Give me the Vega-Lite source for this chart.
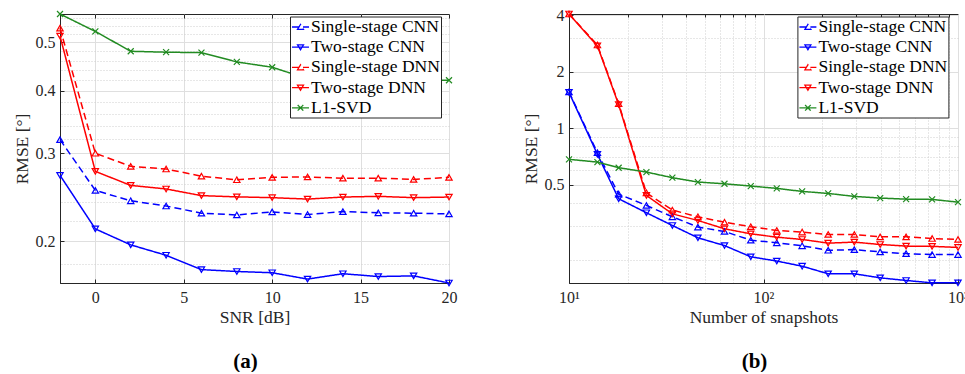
{
  "$schema": "https://vega.github.io/schema/vega-lite/v6.json",
  "background": "white",
  "padding": {"left": 12, "top": 6, "right": 0, "bottom": 0},
  "config": {
    "font": "Liberation Serif",
    "view": {"stroke": "#262626", "strokeWidth": 1},
    "axis": {"labelFont": "Liberation Serif", "labelFontSize": 16, "labelColor": "#262626", "titleFont": "Liberation Serif", "titleFontSize": 17.5, "titleFontWeight": "normal", "titleColor": "#262626", "domainColor": "#262626", "tickColor": "#262626", "gridColor": "#dfdfdf", "gridWidth": 1},
    "legend": {"labelFont": "Liberation Serif", "labelFontSize": 17.5, "labelColor": "#000000"},
    "title": {"font": "Liberation Serif", "fontSize": 21, "fontWeight": "bold", "color": "#000000"}
  },
  "datasets": {
    "snr": [
      {"series": "Single-stage CNN", "snr": -2, "rmse": 0.3195}, {"series": "Single-stage CNN", "snr": 0, "rmse": 0.2528}, {"series": "Single-stage CNN", "snr": 2, "rmse": 0.241}, {"series": "Single-stage CNN", "snr": 4, "rmse": 0.2353}, {"series": "Single-stage CNN", "snr": 6, "rmse": 0.2276}, {"series": "Single-stage CNN", "snr": 8, "rmse": 0.2258}, {"series": "Single-stage CNN", "snr": 10, "rmse": 0.229}, {"series": "Single-stage CNN", "snr": 12, "rmse": 0.2262}, {"series": "Single-stage CNN", "snr": 14, "rmse": 0.2293}, {"series": "Single-stage CNN", "snr": 16, "rmse": 0.228}, {"series": "Single-stage CNN", "snr": 18, "rmse": 0.2276}, {"series": "Single-stage CNN", "snr": 20, "rmse": 0.2269},
      {"series": "Two-stage CNN", "snr": -2, "rmse": 0.271}, {"series": "Two-stage CNN", "snr": 0, "rmse": 0.2117}, {"series": "Two-stage CNN", "snr": 2, "rmse": 0.1967}, {"series": "Two-stage CNN", "snr": 4, "rmse": 0.1875}, {"series": "Two-stage CNN", "snr": 6, "rmse": 0.1755}, {"series": "Two-stage CNN", "snr": 8, "rmse": 0.174}, {"series": "Two-stage CNN", "snr": 10, "rmse": 0.173}, {"series": "Two-stage CNN", "snr": 12, "rmse": 0.168}, {"series": "Two-stage CNN", "snr": 14, "rmse": 0.1722}, {"series": "Two-stage CNN", "snr": 16, "rmse": 0.170}, {"series": "Two-stage CNN", "snr": 18, "rmse": 0.1705}, {"series": "Two-stage CNN", "snr": 20, "rmse": 0.165},
      {"series": "Single-stage DNN", "snr": -2, "rmse": 0.534}, {"series": "Single-stage DNN", "snr": 0, "rmse": 0.300}, {"series": "Single-stage DNN", "snr": 2, "rmse": 0.2825}, {"series": "Single-stage DNN", "snr": 4, "rmse": 0.279}, {"series": "Single-stage DNN", "snr": 6, "rmse": 0.270}, {"series": "Single-stage DNN", "snr": 8, "rmse": 0.2655}, {"series": "Single-stage DNN", "snr": 10, "rmse": 0.2685}, {"series": "Single-stage DNN", "snr": 12, "rmse": 0.269}, {"series": "Single-stage DNN", "snr": 14, "rmse": 0.2675}, {"series": "Single-stage DNN", "snr": 16, "rmse": 0.2675}, {"series": "Single-stage DNN", "snr": 18, "rmse": 0.266}, {"series": "Single-stage DNN", "snr": 20, "rmse": 0.2685},
      {"series": "Two-stage DNN", "snr": -2, "rmse": 0.515}, {"series": "Two-stage DNN", "snr": 0, "rmse": 0.276}, {"series": "Two-stage DNN", "snr": 2, "rmse": 0.2587}, {"series": "Two-stage DNN", "snr": 4, "rmse": 0.2545}, {"series": "Two-stage DNN", "snr": 6, "rmse": 0.2468}, {"series": "Two-stage DNN", "snr": 8, "rmse": 0.2454}, {"series": "Two-stage DNN", "snr": 10, "rmse": 0.2445}, {"series": "Two-stage DNN", "snr": 12, "rmse": 0.2429}, {"series": "Two-stage DNN", "snr": 14, "rmse": 0.2452}, {"series": "Two-stage DNN", "snr": 16, "rmse": 0.246}, {"series": "Two-stage DNN", "snr": 18, "rmse": 0.2445}, {"series": "Two-stage DNN", "snr": 20, "rmse": 0.2452},
      {"series": "L1-SVD", "snr": -2, "rmse": 0.570}, {"series": "L1-SVD", "snr": 0, "rmse": 0.526}, {"series": "L1-SVD", "snr": 2, "rmse": 0.480}, {"series": "L1-SVD", "snr": 4, "rmse": 0.478}, {"series": "L1-SVD", "snr": 6, "rmse": 0.477}, {"series": "L1-SVD", "snr": 8, "rmse": 0.457}, {"series": "L1-SVD", "snr": 10, "rmse": 0.446}, {"series": "L1-SVD", "snr": 12, "rmse": 0.423}, {"series": "L1-SVD", "snr": 14, "rmse": 0.422}, {"series": "L1-SVD", "snr": 16, "rmse": 0.421}, {"series": "L1-SVD", "snr": 18, "rmse": 0.421}, {"series": "L1-SVD", "snr": 20, "rmse": 0.420}
    ],
    "snap": [
      {"series": "Single-stage CNN", "n": 10, "rmse": 1.56}, {"series": "Single-stage CNN", "n": 14, "rmse": 0.74}, {"series": "Single-stage CNN", "n": 18, "rmse": 0.446}, {"series": "Single-stage CNN", "n": 25, "rmse": 0.388}, {"series": "Single-stage CNN", "n": 34, "rmse": 0.3376}, {"series": "Single-stage CNN", "n": 46, "rmse": 0.2976}, {"series": "Single-stage CNN", "n": 63, "rmse": 0.282}, {"series": "Single-stage CNN", "n": 86, "rmse": 0.2535}, {"series": "Single-stage CNN", "n": 117, "rmse": 0.2455}, {"series": "Single-stage CNN", "n": 158, "rmse": 0.2366}, {"series": "Single-stage CNN", "n": 215, "rmse": 0.224}, {"series": "Single-stage CNN", "n": 293, "rmse": 0.2258}, {"series": "Single-stage CNN", "n": 398, "rmse": 0.2196}, {"series": "Single-stage CNN", "n": 541, "rmse": 0.215}, {"series": "Single-stage CNN", "n": 736, "rmse": 0.2125}, {"series": "Single-stage CNN", "n": 1000, "rmse": 0.2125},
      {"series": "Two-stage CNN", "n": 10, "rmse": 1.55}, {"series": "Two-stage CNN", "n": 14, "rmse": 0.7255}, {"series": "Two-stage CNN", "n": 18, "rmse": 0.421}, {"series": "Two-stage CNN", "n": 25, "rmse": 0.3547}, {"series": "Two-stage CNN", "n": 34, "rmse": 0.3035}, {"series": "Two-stage CNN", "n": 46, "rmse": 0.261}, {"series": "Two-stage CNN", "n": 63, "rmse": 0.2373}, {"series": "Two-stage CNN", "n": 86, "rmse": 0.2068}, {"series": "Two-stage CNN", "n": 117, "rmse": 0.1963}, {"series": "Two-stage CNN", "n": 158, "rmse": 0.1843}, {"series": "Two-stage CNN", "n": 215, "rmse": 0.1679}, {"series": "Two-stage CNN", "n": 293, "rmse": 0.1679}, {"series": "Two-stage CNN", "n": 398, "rmse": 0.1598}, {"series": "Two-stage CNN", "n": 541, "rmse": 0.1547}, {"series": "Two-stage CNN", "n": 736, "rmse": 0.1503}, {"series": "Two-stage CNN", "n": 1000, "rmse": 0.1503},
      {"series": "Single-stage DNN", "n": 10, "rmse": 4.05}, {"series": "Single-stage DNN", "n": 14, "rmse": 2.77}, {"series": "Single-stage DNN", "n": 18, "rmse": 1.35}, {"series": "Single-stage DNN", "n": 25, "rmse": 0.453}, {"series": "Single-stage DNN", "n": 34, "rmse": 0.3665}, {"series": "Single-stage DNN", "n": 46, "rmse": 0.3376}, {"series": "Single-stage DNN", "n": 63, "rmse": 0.316}, {"series": "Single-stage DNN", "n": 86, "rmse": 0.299}, {"series": "Single-stage DNN", "n": 117, "rmse": 0.2855}, {"series": "Single-stage DNN", "n": 158, "rmse": 0.280}, {"series": "Single-stage DNN", "n": 215, "rmse": 0.272}, {"series": "Single-stage DNN", "n": 293, "rmse": 0.272}, {"series": "Single-stage DNN", "n": 398, "rmse": 0.264}, {"series": "Single-stage DNN", "n": 541, "rmse": 0.264}, {"series": "Single-stage DNN", "n": 736, "rmse": 0.2587}, {"series": "Single-stage DNN", "n": 1000, "rmse": 0.2557},
      {"series": "Two-stage DNN", "n": 10, "rmse": 4.05}, {"series": "Two-stage DNN", "n": 14, "rmse": 2.74}, {"series": "Two-stage DNN", "n": 18, "rmse": 1.335}, {"series": "Two-stage DNN", "n": 25, "rmse": 0.4385}, {"series": "Two-stage DNN", "n": 34, "rmse": 0.350}, {"series": "Two-stage DNN", "n": 46, "rmse": 0.3227}, {"series": "Two-stage DNN", "n": 63, "rmse": 0.2915}, {"series": "Two-stage DNN", "n": 86, "rmse": 0.274}, {"series": "Two-stage DNN", "n": 117, "rmse": 0.263}, {"series": "Two-stage DNN", "n": 158, "rmse": 0.2557}, {"series": "Two-stage DNN", "n": 215, "rmse": 0.2445}, {"series": "Two-stage DNN", "n": 293, "rmse": 0.2475}, {"series": "Two-stage DNN", "n": 398, "rmse": 0.2404}, {"series": "Two-stage DNN", "n": 541, "rmse": 0.2357}, {"series": "Two-stage DNN", "n": 736, "rmse": 0.235}, {"series": "Two-stage DNN", "n": 1000, "rmse": 0.2319},
      {"series": "L1-SVD", "n": 10, "rmse": 0.6825}, {"series": "L1-SVD", "n": 14, "rmse": 0.660}, {"series": "L1-SVD", "n": 18, "rmse": 0.616}, {"series": "L1-SVD", "n": 25, "rmse": 0.584}, {"series": "L1-SVD", "n": 34, "rmse": 0.545}, {"series": "L1-SVD", "n": 46, "rmse": 0.5167}, {"series": "L1-SVD", "n": 63, "rmse": 0.506}, {"series": "L1-SVD", "n": 86, "rmse": 0.492}, {"series": "L1-SVD", "n": 117, "rmse": 0.478}, {"series": "L1-SVD", "n": 158, "rmse": 0.4607}, {"series": "L1-SVD", "n": 215, "rmse": 0.4495}, {"series": "L1-SVD", "n": 293, "rmse": 0.4333}, {"series": "L1-SVD", "n": 398, "rmse": 0.4246}, {"series": "L1-SVD", "n": 541, "rmse": 0.419}, {"series": "L1-SVD", "n": 736, "rmse": 0.4177}, {"series": "L1-SVD", "n": 1000, "rmse": 0.404}
    ]
  },
  "spacing": 120,
  "bounds": "flush",
  "resolve": {
    "scale": {"x": "independent", "y": "independent", "color": "independent", "strokeDash": "independent"},
    "legend": {"color": "independent", "strokeDash": "independent"}
  },
  "hconcat": [
    {
      "width": 389, "height": 269,
      "data": {"name": "snr"},
      "title": {"text": "(a)", "orient": "bottom", "frame": "group", "anchor": "middle", "dx": -9, "offset": 25},
      "layer": [
        {
          "mark": {"type": "line", "strokeWidth": 1.5},
          "encoding": {
            "x": {"field": "snr", "type": "quantitative", "scale": {"domain": [-2, 20], "nice": false, "zero": false}, "axis": {"title": "SNR [dB]", "values": [0, 5, 10, 15, 20], "grid": true, "tickSize": -4, "labelPadding": 10, "titlePadding": 3, "labelFlush": false}},
            "y": {"field": "rmse", "type": "quantitative", "scale": {"type": "log", "domain": [0.165, 0.57], "nice": false}, "axis": {"title": "RMSE [°]", "values": [0.2, 0.3, 0.4, 0.5], "format": ".1f", "grid": true, "tickSize": -4, "labelPadding": 9, "titlePadding": 4, "labelFlush": false}},
            "color": {"field": "series", "type": "nominal", "scale": {"domain": ["Single-stage CNN", "Two-stage CNN", "Single-stage DNN", "Two-stage DNN", "L1-SVD"], "range": ["#0000ff", "#0000ff", "#ff0000", "#ff0000", "#228b22"]},
              "legend": {"title": null, "orient": "none", "legendX": 230, "legendY": 2.5, "padding": 1, "strokeColor": "#262626", "fillColor": "white", "symbolSize": 289, "rowPadding": 2.2, "labelOffset": 1, "symbolStrokeWidth": 1.3, "symbolFillColor": "transparent",
                "encode": {"symbols": {"update": {"shape": {"signal": "datum.value == 'L1-SVD' ? 'M-1,0L1,0M-0.33,-0.33L0.33,0.33M-0.33,0.33L0.33,-0.33' : (slice(datum.value,0,3) == 'Two' ? 'M-1,0L1,0M-0.35,-0.28L0.35,-0.28L0,0.3Z' : 'M-1,0L1,0M-0.35,0.28L0.35,0.28L0,-0.3Z')"}, "fill": {"value": "transparent"}, "strokeWidth": {"value": 1.3}}}}}},
            "strokeDash": {"field": "series", "type": "nominal", "scale": {"domain": ["Single-stage CNN", "Two-stage CNN", "Single-stage DNN", "Two-stage DNN", "L1-SVD"], "range": [[7, 4], [1, 0], [7, 4], [1, 0], [1, 0]]}, "legend": null}
          }
        },
        {
          "transform": [{"filter": {"field": "series", "oneOf": ["Single-stage CNN", "Single-stage DNN"]}}],
          "mark": {"type": "point", "shape": "triangle-up", "filled": false, "size": 40, "strokeWidth": 1.2, "opacity": 1},
          "encoding": {
            "x": {"field": "snr", "type": "quantitative", "scale": {"domain": [-2, 20], "nice": false, "zero": false}, "axis": {"orient": "top", "values": [0, 5, 10, 15, 20], "labels": false, "title": null, "domain": false, "grid": false, "tickSize": -4}},
            "y": {"field": "rmse", "type": "quantitative", "scale": {"type": "log", "domain": [0.165, 0.57], "nice": false}, "axis": {"orient": "right", "values": [0.18, 0.22, 0.24, 0.26, 0.28, 0.32, 0.34, 0.36, 0.38, 0.42, 0.44, 0.46, 0.48, 0.52, 0.54, 0.56], "labels": false, "title": null, "domain": false, "grid": true, "gridDash": [1, 2], "gridColor": "#cfcfcf", "ticks": false}},
            "color": {"field": "series", "type": "nominal", "scale": {"domain": ["Single-stage CNN", "Two-stage CNN", "Single-stage DNN", "Two-stage DNN", "L1-SVD"], "range": ["#0000ff", "#0000ff", "#ff0000", "#ff0000", "#228b22"]},
              "legend": {"title": null, "orient": "none", "legendX": 230, "legendY": 2.5, "padding": 1, "strokeColor": "#262626", "fillColor": "white", "symbolSize": 289, "rowPadding": 2.2, "labelOffset": 1, "symbolStrokeWidth": 1.3, "symbolFillColor": "transparent",
                "encode": {"symbols": {"update": {"shape": {"signal": "datum.value == 'L1-SVD' ? 'M-1,0L1,0M-0.33,-0.33L0.33,0.33M-0.33,0.33L0.33,-0.33' : (slice(datum.value,0,3) == 'Two' ? 'M-1,0L1,0M-0.35,-0.28L0.35,-0.28L0,0.3Z' : 'M-1,0L1,0M-0.35,0.28L0.35,0.28L0,-0.3Z')"}, "fill": {"value": "transparent"}, "strokeWidth": {"value": 1.3}}}}}}
          }
        },
        {
          "transform": [{"filter": {"field": "series", "oneOf": ["Two-stage CNN", "Two-stage DNN"]}}],
          "mark": {"type": "point", "shape": "triangle-down", "filled": false, "size": 40, "strokeWidth": 1.2, "opacity": 1},
          "encoding": {
            "x": {"field": "snr", "type": "quantitative", "scale": {"domain": [-2, 20], "nice": false, "zero": false}, "axis": null},
            "y": {"field": "rmse", "type": "quantitative", "scale": {"type": "log", "domain": [0.165, 0.57], "nice": false}, "axis": null},
            "color": {"field": "series", "type": "nominal", "scale": {"domain": ["Single-stage CNN", "Two-stage CNN", "Single-stage DNN", "Two-stage DNN", "L1-SVD"], "range": ["#0000ff", "#0000ff", "#ff0000", "#ff0000", "#228b22"]},
              "legend": {"title": null, "orient": "none", "legendX": 230, "legendY": 2.5, "padding": 1, "strokeColor": "#262626", "fillColor": "white", "symbolSize": 289, "rowPadding": 2.2, "labelOffset": 1, "symbolStrokeWidth": 1.3, "symbolFillColor": "transparent",
                "encode": {"symbols": {"update": {"shape": {"signal": "datum.value == 'L1-SVD' ? 'M-1,0L1,0M-0.33,-0.33L0.33,0.33M-0.33,0.33L0.33,-0.33' : (slice(datum.value,0,3) == 'Two' ? 'M-1,0L1,0M-0.35,-0.28L0.35,-0.28L0,0.3Z' : 'M-1,0L1,0M-0.35,0.28L0.35,0.28L0,-0.3Z')"}, "fill": {"value": "transparent"}, "strokeWidth": {"value": 1.3}}}}}}
          }
        },
        {
          "transform": [{"filter": {"field": "series", "oneOf": ["L1-SVD"]}}],
          "mark": {"type": "point", "shape": "M-1,-1L1,1M-1,1L1,-1", "filled": false, "size": 36, "strokeWidth": 1.2, "opacity": 1},
          "encoding": {
            "x": {"field": "snr", "type": "quantitative", "scale": {"domain": [-2, 20], "nice": false, "zero": false}, "axis": null},
            "y": {"field": "rmse", "type": "quantitative", "scale": {"type": "log", "domain": [0.165, 0.57], "nice": false}, "axis": null},
            "color": {"field": "series", "type": "nominal", "scale": {"domain": ["Single-stage CNN", "Two-stage CNN", "Single-stage DNN", "Two-stage DNN", "L1-SVD"], "range": ["#0000ff", "#0000ff", "#ff0000", "#ff0000", "#228b22"]},
              "legend": {"title": null, "orient": "none", "legendX": 230, "legendY": 2.5, "padding": 1, "strokeColor": "#262626", "fillColor": "white", "symbolSize": 289, "rowPadding": 2.2, "labelOffset": 1, "symbolStrokeWidth": 1.3, "symbolFillColor": "transparent",
                "encode": {"symbols": {"update": {"shape": {"signal": "datum.value == 'L1-SVD' ? 'M-1,0L1,0M-0.33,-0.33L0.33,0.33M-0.33,0.33L0.33,-0.33' : (slice(datum.value,0,3) == 'Two' ? 'M-1,0L1,0M-0.35,-0.28L0.35,-0.28L0,0.3Z' : 'M-1,0L1,0M-0.35,0.28L0.35,0.28L0,-0.3Z')"}, "fill": {"value": "transparent"}, "strokeWidth": {"value": 1.3}}}}}}
          }
        }
      ],
      "resolve": {"axis": {"x": "independent", "y": "independent"}}
    },
    {
      "width": 389, "height": 269,
      "data": {"name": "snap"},
      "title": {"text": "(b)", "orient": "bottom", "frame": "group", "anchor": "middle", "dx": -9, "offset": 25},
      "layer": [
        {
          "mark": {"type": "line", "strokeWidth": 1.5},
          "encoding": {
            "x": {"field": "n", "type": "quantitative", "scale": {"type": "log", "domain": [10, 1000], "nice": false}, "axis": {"title": "Number of snapshots", "values": [10, 100, 1000], "labelExpr": "datum.value == 10 ? '10¹' : (datum.value == 100 ? '10²' : '10³')", "grid": true, "tickSize": -4, "labelPadding": 10, "titlePadding": 3, "labelFlush": false}},
            "y": {"field": "rmse", "type": "quantitative", "scale": {"type": "log", "domain": [0.15, 4.05], "nice": false}, "axis": {"title": "RMSE [°]", "values": [0.5, 1, 2, 4], "format": "~g", "grid": true, "tickSize": -4, "labelPadding": 9, "titlePadding": 4, "labelFlush": false}},
            "color": {"field": "series", "type": "nominal", "scale": {"domain": ["Single-stage CNN", "Two-stage CNN", "Single-stage DNN", "Two-stage DNN", "L1-SVD"], "range": ["#0000ff", "#0000ff", "#ff0000", "#ff0000", "#228b22"]},
              "legend": {"title": null, "orient": "none", "legendX": 228.4, "legendY": 2.5, "padding": 1, "strokeColor": "#262626", "fillColor": "white", "symbolSize": 289, "rowPadding": 2.2, "labelOffset": 1, "symbolStrokeWidth": 1.3, "symbolFillColor": "transparent",
                "encode": {"symbols": {"update": {"shape": {"signal": "datum.value == 'L1-SVD' ? 'M-1,0L1,0M-0.33,-0.33L0.33,0.33M-0.33,0.33L0.33,-0.33' : (slice(datum.value,0,3) == 'Two' ? 'M-1,0L1,0M-0.35,-0.28L0.35,-0.28L0,0.3Z' : 'M-1,0L1,0M-0.35,0.28L0.35,0.28L0,-0.3Z')"}, "fill": {"value": "transparent"}, "strokeWidth": {"value": 1.3}}}}}},
            "strokeDash": {"field": "series", "type": "nominal", "scale": {"domain": ["Single-stage CNN", "Two-stage CNN", "Single-stage DNN", "Two-stage DNN", "L1-SVD"], "range": [[7, 4], [1, 0], [7, 4], [1, 0], [1, 0]]}, "legend": null}
          }
        },
        {
          "transform": [{"filter": {"field": "series", "oneOf": ["Single-stage CNN", "Single-stage DNN"]}}],
          "mark": {"type": "point", "shape": "triangle-up", "filled": false, "size": 40, "strokeWidth": 1.2, "opacity": 1},
          "encoding": {
            "x": {"field": "n", "type": "quantitative", "scale": {"type": "log", "domain": [10, 1000], "nice": false}, "axis": {"orient": "top", "values": [20, 30, 40, 50, 60, 70, 80, 90, 200, 300, 400, 500, 600, 700, 800, 900], "labels": false, "title": null, "domain": false, "grid": true, "gridDash": [1, 2], "gridColor": "#cfcfcf", "tickSize": -3}},
            "y": {"field": "rmse", "type": "quantitative", "scale": {"type": "log", "domain": [0.15, 4.05], "nice": false}, "axis": {"orient": "right", "values": [0.2, 0.3, 0.4, 0.6, 0.7, 0.8, 0.9, 3], "labels": false, "title": null, "domain": false, "grid": true, "gridDash": [1, 2], "gridColor": "#cfcfcf", "ticks": false}},
            "color": {"field": "series", "type": "nominal", "scale": {"domain": ["Single-stage CNN", "Two-stage CNN", "Single-stage DNN", "Two-stage DNN", "L1-SVD"], "range": ["#0000ff", "#0000ff", "#ff0000", "#ff0000", "#228b22"]},
              "legend": {"title": null, "orient": "none", "legendX": 228.4, "legendY": 2.5, "padding": 1, "strokeColor": "#262626", "fillColor": "white", "symbolSize": 289, "rowPadding": 2.2, "labelOffset": 1, "symbolStrokeWidth": 1.3, "symbolFillColor": "transparent",
                "encode": {"symbols": {"update": {"shape": {"signal": "datum.value == 'L1-SVD' ? 'M-1,0L1,0M-0.33,-0.33L0.33,0.33M-0.33,0.33L0.33,-0.33' : (slice(datum.value,0,3) == 'Two' ? 'M-1,0L1,0M-0.35,-0.28L0.35,-0.28L0,0.3Z' : 'M-1,0L1,0M-0.35,0.28L0.35,0.28L0,-0.3Z')"}, "fill": {"value": "transparent"}, "strokeWidth": {"value": 1.3}}}}}}
          }
        },
        {
          "transform": [{"filter": {"field": "series", "oneOf": ["Two-stage CNN", "Two-stage DNN"]}}],
          "mark": {"type": "point", "shape": "triangle-down", "filled": false, "size": 40, "strokeWidth": 1.2, "opacity": 1},
          "encoding": {
            "x": {"field": "n", "type": "quantitative", "scale": {"type": "log", "domain": [10, 1000], "nice": false}, "axis": null},
            "y": {"field": "rmse", "type": "quantitative", "scale": {"type": "log", "domain": [0.15, 4.05], "nice": false}, "axis": null},
            "color": {"field": "series", "type": "nominal", "scale": {"domain": ["Single-stage CNN", "Two-stage CNN", "Single-stage DNN", "Two-stage DNN", "L1-SVD"], "range": ["#0000ff", "#0000ff", "#ff0000", "#ff0000", "#228b22"]},
              "legend": {"title": null, "orient": "none", "legendX": 228.4, "legendY": 2.5, "padding": 1, "strokeColor": "#262626", "fillColor": "white", "symbolSize": 289, "rowPadding": 2.2, "labelOffset": 1, "symbolStrokeWidth": 1.3, "symbolFillColor": "transparent",
                "encode": {"symbols": {"update": {"shape": {"signal": "datum.value == 'L1-SVD' ? 'M-1,0L1,0M-0.33,-0.33L0.33,0.33M-0.33,0.33L0.33,-0.33' : (slice(datum.value,0,3) == 'Two' ? 'M-1,0L1,0M-0.35,-0.28L0.35,-0.28L0,0.3Z' : 'M-1,0L1,0M-0.35,0.28L0.35,0.28L0,-0.3Z')"}, "fill": {"value": "transparent"}, "strokeWidth": {"value": 1.3}}}}}}
          }
        },
        {
          "transform": [{"filter": {"field": "series", "oneOf": ["L1-SVD"]}}],
          "mark": {"type": "point", "shape": "M-1,-1L1,1M-1,1L1,-1", "filled": false, "size": 36, "strokeWidth": 1.2, "opacity": 1},
          "encoding": {
            "x": {"field": "n", "type": "quantitative", "scale": {"type": "log", "domain": [10, 1000], "nice": false}, "axis": null},
            "y": {"field": "rmse", "type": "quantitative", "scale": {"type": "log", "domain": [0.15, 4.05], "nice": false}, "axis": null},
            "color": {"field": "series", "type": "nominal", "scale": {"domain": ["Single-stage CNN", "Two-stage CNN", "Single-stage DNN", "Two-stage DNN", "L1-SVD"], "range": ["#0000ff", "#0000ff", "#ff0000", "#ff0000", "#228b22"]},
              "legend": {"title": null, "orient": "none", "legendX": 228.4, "legendY": 2.5, "padding": 1, "strokeColor": "#262626", "fillColor": "white", "symbolSize": 289, "rowPadding": 2.2, "labelOffset": 1, "symbolStrokeWidth": 1.3, "symbolFillColor": "transparent",
                "encode": {"symbols": {"update": {"shape": {"signal": "datum.value == 'L1-SVD' ? 'M-1,0L1,0M-0.33,-0.33L0.33,0.33M-0.33,0.33L0.33,-0.33' : (slice(datum.value,0,3) == 'Two' ? 'M-1,0L1,0M-0.35,-0.28L0.35,-0.28L0,0.3Z' : 'M-1,0L1,0M-0.35,0.28L0.35,0.28L0,-0.3Z')"}, "fill": {"value": "transparent"}, "strokeWidth": {"value": 1.3}}}}}}
          }
        }
      ],
      "resolve": {"axis": {"x": "independent", "y": "independent"}}
    }
  ]
}
